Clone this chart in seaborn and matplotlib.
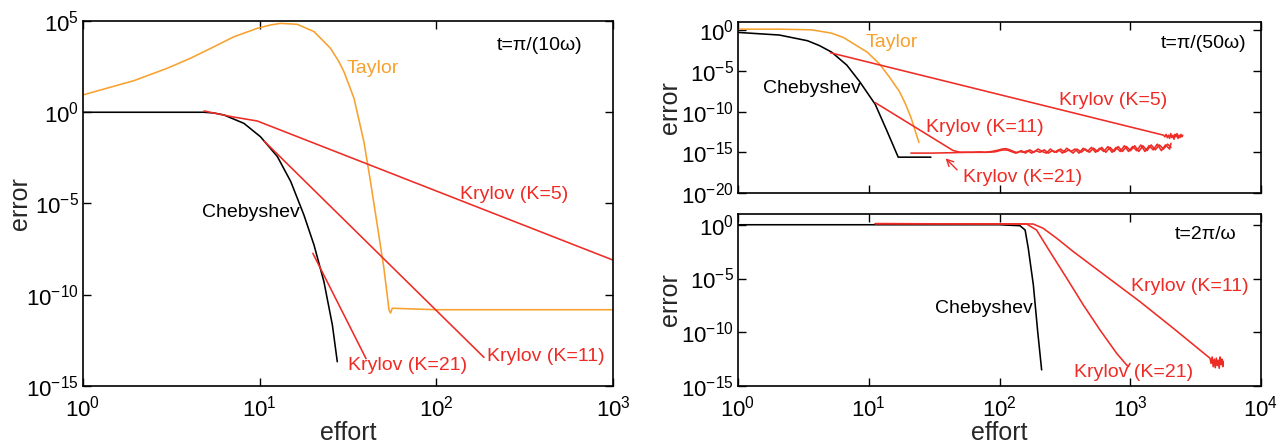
import numpy as np
import pandas as pd
import matplotlib
matplotlib.use("Agg")
import matplotlib.pyplot as plt
import seaborn as sns
from matplotlib.ticker import FixedLocator, FixedFormatter, NullLocator

sns.set_theme(style="white")
plt.rcParams['font.family'] = ['Liberation Sans', 'DejaVu Sans']
plt.rcParams['mathtext.fontset'] = 'custom'
plt.rcParams['mathtext.rm'] = 'Liberation Sans'
plt.rcParams['mathtext.it'] = 'Liberation Sans:italic'
plt.rcParams['mathtext.bf'] = 'Liberation Sans:bold'

RED = "#EE2B25"
ORANGE = "#F7A12E"
BLACK = "#000000"

# Values: effort (x) and log10(error) exponents (e)

# ---------------- Panel A: t = pi/(10 w) ----------------
a_taylor_x = [1, 1.94, 3.0, 4.06, 5.28, 7.16, 9.7, 11.5, 13.1, 16.3, 20.3, 25.2, 28.1, 30, 34.2, 38.9,
              42.4, 46.3, 50.5, 54, 55.1, 56.3, 100, 1000]
a_taylor_e = [0.95, 1.73, 2.41, 2.96, 3.5, 4.14, 4.6, 4.78, 4.87, 4.82, 4.42, 3.5, 2.77, 2.22, 0.76, -1.61,
              -3.8, -6.18, -8.55, -10.84, -11.0, -10.74, -10.82, -10.82]
a_cheb_x = [1, 4.84, 5.5, 6.28, 8.15, 10.1, 12.6, 15, 17.8, 20.3, 23.1, 25.8, 27.5]
a_cheb_e = [0, 0, -0.04, -0.15, -0.61, -1.34, -2.43, -3.8, -5.63, -7.27, -9.28, -11.66, -13.67]
a_k5_x = [4.84, 7, 9.7, 1000]
a_k5_e = [0.07, -0.25, -0.48, -8.1]
a_k11_x = [10.6, 186]
a_k11_e = [-1.58, -13.43]
a_k21_x = [20, 40]
a_k21_e = [-7.73, -13.5]

# ---------------- Panel B: t = pi/(50 w) ----------------
b_taylor_x = [1, 2.07, 3.64, 5.16, 6.38, 7.35, 9.73, 12.0, 14.3, 17.1, 18.9, 21.0, 24.2]
b_taylor_e = [0.12, 0.12, 0.04, -0.36, -0.89, -1.49, -2.7, -4.1, -5.7, -7.5, -8.9, -10.7, -13.8]
b_cheb_x = [1, 2.07, 3.4, 4.2, 5.2, 6.8, 8.5, 11.2, 13.8, 16.8, 29.9]
b_cheb_e = [-0.28, -0.6, -1.3, -1.9, -2.7, -4.3, -6.3, -9.1, -12.4, -15.6, -15.6]
b_k5_x = [5.1, 1800, 1840, 1880, 1920, 1960, 2000, 2040, 2080, 2120, 2160, 2200, 2240, 2280, 2320,
          2360, 2400, 2440, 2480, 2520]
b_k5_e = [-2.78, -12.9, -13.1, -12.8, -13.2, -12.9, -13.3, -12.7, -13.2, -12.9, -13.4, -12.8, -13.1,
          -12.7, -13.3, -12.9, -13.2, -12.8, -13.1, -12.9]
b_k11_x = [11.2, 44, 50, 56, 63, 70, 78, 87, 97, 105, 112, 120, 128, 137, 147, 158, 170, 183, 197, 212,
           228, 245, 263, 283, 304, 327, 352, 378, 406, 437, 470, 505, 543, 584, 628, 675, 726, 780, 839,
           902, 970, 1043, 1121, 1205, 1296, 1393, 1498, 1610, 1731, 1861, 2000, 2050]
b_k11_e = [-8.9, -14.77, -15.0, -15.0, -15.0, -14.95, -15.0, -14.9, -14.75, -14.6, -14.55, -14.7, -14.9,
           -15.05, -14.8, -15.1, -14.7, -15.0, -14.6, -14.9, -15.1, -14.6, -15.0, -14.7, -15.1, -14.5,
           -14.9, -14.6, -15.1, -14.5, -14.9, -14.4, -15.0, -14.5, -14.9, -14.3, -15.0, -14.4, -14.9,
           -14.2, -14.9, -14.3, -14.8, -14.1, -14.9, -14.2, -14.7, -14.0, -14.8, -14.1, -14.6, -13.9]
b_k21_x = [21, 30, 44, 55, 66, 80, 92, 100, 108, 116, 125, 133, 142, 152, 164, 176, 190, 204, 220, 236,
           254, 273, 293, 315, 340, 365, 392, 421, 453, 487, 524, 563, 605, 651, 700, 752, 809, 870, 935,
           1005, 1081, 1162, 1250, 1344, 1445, 1553, 1670, 1795, 1930, 2050]
b_k21_e = [-15.1, -15.1, -15.05, -15.0, -15.0, -15.0, -14.95, -14.8, -14.7, -14.75, -14.95, -15.1, -14.9,
           -15.0, -14.8, -15.1, -14.8, -15.0, -14.7, -15.1, -14.8, -15.0, -14.6, -15.0, -14.7, -15.1,
           -14.6, -15.0, -14.6, -15.0, -14.5, -14.9, -14.4, -15.0, -14.4, -14.9, -14.3, -14.9, -14.3,
           -14.8, -14.2, -14.9, -14.2, -14.8, -14.1, -14.7, -14.1, -14.6, -14.0, -14.4]

# ---------------- Panel C: t = 2 pi / w ----------------
c_cheb_x = [1, 10, 100, 143.5, 157, 166, 181.5, 196, 210]
c_cheb_e = [0, 0, 0, -0.09, -0.49, -2.19, -5.6, -9.95, -13.5]
c_k21_x = [11.2, 50, 161, 192, 243, 327, 438, 587, 787, 939, 966, 995]
c_k21_e = [0.1, 0.08, 0.07, -0.49, -2.5, -4.98, -7.47, -9.79, -11.96, -13.05, -13.2, -12.9]
c_k11_x = [11.2, 181, 216, 274, 367, 660, 1186, 2135, 4075, 4150, 4230, 4310, 4390, 4470, 4550, 4630,
           4710, 4790, 4870, 4950, 5030, 5100, 5150]
c_k11_e = [0.1, 0.07, -0.33, -1.26, -2.5, -4.83, -7.15, -9.63, -12.42, -12.9, -12.3, -13.2, -12.5,
           -13.3, -12.4, -13.1, -12.6, -13.35, -12.3, -13.0, -12.5, -13.2, -12.7]

yticks_a = [1e-15, 1e-10, 1e-5, 1e0, 1e5]
yticklabels_a = [r'$10^{-15}$', r'$10^{-10}$', r'$10^{-5}$', r'$10^{0}$', r'$10^{5}$']
xticks_a = [1e0, 1e1, 1e2, 1e3]
xticklabels_a = [r'$10^{0}$', r'$10^{1}$', r'$10^{2}$', r'$10^{3}$']
yticks_b = [1e-20, 1e-15, 1e-10, 1e-5, 1e0]
yticklabels_b = [r'$10^{-20}$', r'$10^{-15}$', r'$10^{-10}$', r'$10^{-5}$', r'$10^{0}$']
yticks_c = [1e-15, 1e-10, 1e-5, 1e0]
yticklabels_c = [r'$10^{-15}$', r'$10^{-10}$', r'$10^{-5}$', r'$10^{0}$']
xticks_bc = [1e0, 1e1, 1e2, 1e3, 1e4]
xticklabels_bc = [r'$10^{0}$', r'$10^{1}$', r'$10^{2}$', r'$10^{3}$', r'$10^{4}$']

W, H = 1284, 446
fig = plt.figure(figsize=(W / 100, H / 100), dpi=100)
axA = fig.add_axes([83 / W, 1 - 386 / H, (613 - 83) / W, (386 - 21) / H])
axB = fig.add_axes([738 / W, 1 - 193 / H, (1261 - 738) / W, (193 - 22) / H])
axC = fig.add_axes([738 / W, 1 - 386 / H, (1261 - 738) / W, (386 - 214) / H])

LW = 1.15
TFS = 16
AFS = 14
LFS = 18


def draw(ax, xs, es, color):
    df = pd.DataFrame({"effort": xs, "error": np.power(10.0, np.array(es, dtype=float))})
    sns.lineplot(data=df, x="effort", y="error", ax=ax, color=color, lw=LW,
                 estimator=None, sort=False)


def style(ax, xticks, xlabels, yticks, ylabels, xlim, ylim, show_x=True):
    ax.set_xscale('log')
    ax.set_yscale('log')
    ax.set_xlim(*xlim)
    ax.set_ylim(*ylim)
    ax.xaxis.set_major_locator(FixedLocator(xticks))
    ax.yaxis.set_major_locator(FixedLocator(yticks))
    ax.xaxis.set_minor_locator(NullLocator())
    ax.yaxis.set_minor_locator(NullLocator())
    ax.yaxis.set_major_formatter(FixedFormatter(ylabels))
    if show_x:
        ax.xaxis.set_major_formatter(FixedFormatter(xlabels))
    else:
        ax.xaxis.set_major_formatter(FixedFormatter([''] * len(xticks)))
    ax.tick_params(which='both', direction='in', top=True, right=True, bottom=True, left=True,
                   length=6, width=1.0, labelsize=TFS, colors='black')
    ax.tick_params(axis='x', pad=7)
    ax.tick_params(axis='y', pad=3)
    for s in ax.spines.values():
        s.set_color('black')
        s.set_linewidth(1.2)
    ax.set_facecolor('white')
    ax.set_xlabel('')
    ax.set_ylabel('')


def labels(ax, xlabel_y, ylabel_x, with_x=True):
    if with_x:
        ax.set_xlabel('effort', fontsize=LFS)
        ax.xaxis.label.set_va('center')
        ax.xaxis.set_label_coords(0.5, xlabel_y)
    ax.set_ylabel('error', fontsize=LFS)
    ax.yaxis.label.set_va('center')
    ax.yaxis.label.set_ha('center')
    ax.yaxis.set_label_coords(ylabel_x, 0.5)


# Panel A
draw(axA, a_taylor_x, a_taylor_e, ORANGE)
draw(axA, a_cheb_x, a_cheb_e, BLACK)
draw(axA, a_k5_x, a_k5_e, RED)
draw(axA, a_k11_x, a_k11_e, RED)
draw(axA, a_k21_x, a_k21_e, RED)
style(axA, xticks_a, xticklabels_a, yticks_a, yticklabels_a, (1, 1e3), (1e-15, 1e5))
labels(axA, (386 - 433) / 365, (20 - 83) / 530)
axA.text(220, 10 ** 3.67, 't=π/(10ω)', fontsize=AFS, color=BLACK, va='center')
axA.text(31, 10 ** 2.4, 'Taylor', fontsize=AFS, color=ORANGE, va='center')
axA.text(4.7, 10 ** -5.5, 'Chebyshev', fontsize=AFS, color=BLACK, va='center')
axA.text(137, 10 ** -4.5, 'Krylov (K=5)', fontsize=AFS, color=RED, va='center')
axA.text(31.8, 10 ** -13.9, 'Krylov (K=21)', fontsize=AFS, color=RED, va='center')
axA.text(194, 10 ** -13.4, 'Krylov (K=11)', fontsize=AFS, color=RED, va='center')

# Panel B
draw(axB, b_taylor_x, b_taylor_e, ORANGE)
draw(axB, b_cheb_x, b_cheb_e, BLACK)
draw(axB, b_k5_x, b_k5_e, RED)
draw(axB, b_k11_x, b_k11_e, RED)
draw(axB, b_k21_x, b_k21_e, RED)
style(axB, xticks_bc, xticklabels_bc, yticks_b, yticklabels_b, (1, 1e4), (1e-20, 1e1), show_x=False)
labels(axB, 0, (670 - 738) / 523, with_x=False)
axB.text(1700, 10 ** -1.7, 't=π/(50ω)', fontsize=AFS, color=BLACK, va='center')
axB.text(9.4, 10 ** -1.57, 'Taylor', fontsize=AFS, color=ORANGE, va='center')
axB.text(1.55, 10 ** -7.2, 'Chebyshev', fontsize=AFS, color=BLACK, va='center')
axB.text(283, 10 ** -8.6, 'Krylov (K=5)', fontsize=AFS, color=RED, va='center')
axB.text(27.3, 10 ** -12.0, 'Krylov (K=11)', fontsize=AFS, color=RED, va='center')
axB.text(52.5, 10 ** -18.1, 'Krylov (K=21)', fontsize=AFS, color=RED, va='center')
axB.annotate('', xy=(37.4, 10 ** -15.5), xytext=(49, 10 ** -17.4),
             arrowprops=dict(arrowstyle='->', color=RED, lw=1.0))

# Panel C
draw(axC, c_cheb_x, c_cheb_e, BLACK)
draw(axC, c_k21_x, c_k21_e, RED)
draw(axC, c_k11_x, c_k11_e, RED)
style(axC, xticks_bc, xticklabels_bc, yticks_c, yticklabels_c, (1, 1e4), (1e-15, 1e1))
labels(axC, (386 - 433) / 172, (670 - 738) / 523)
axC.text(2190, 10 ** -0.9, 't=2π/ω', fontsize=AFS, color=BLACK, va='center')
axC.text(32, 10 ** -7.8, 'Chebyshev', fontsize=AFS, color=BLACK, va='center')
axC.text(1020, 10 ** -5.7, 'Krylov (K=11)', fontsize=AFS, color=RED, va='center')
axC.text(373, 10 ** -13.7, 'Krylov (K=21)', fontsize=AFS, color=RED, va='center')

for ax in (axA, axB, axC):
    leg = ax.get_legend()
    if leg is not None:
        leg.remove()

fig.savefig('out.png', dpi=100, facecolor='white')
